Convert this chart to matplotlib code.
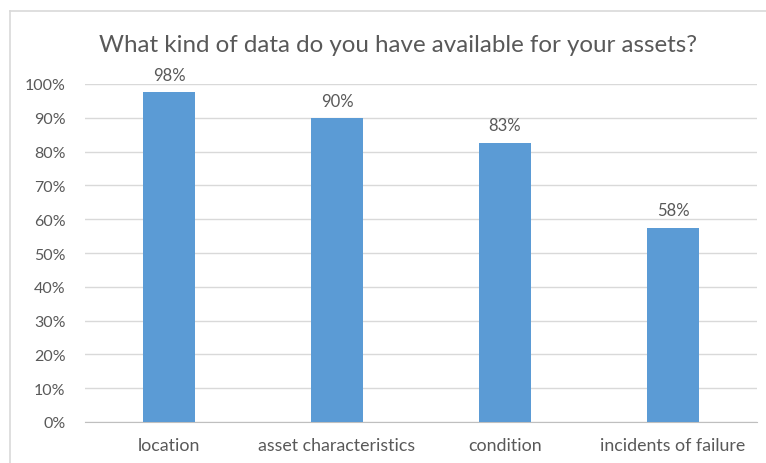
import matplotlib

matplotlib.use("Agg")
import matplotlib.pyplot as plt
from matplotlib.lines import Line2D
from matplotlib.ticker import PercentFormatter

plt.rcParams["font.family"] = ["Lato", "DejaVu Sans"]

categories = ["location", "asset characteristics", "condition", "incidents of failure"]
values = [0.975, 0.899, 0.826, 0.575]
labels = ["98%", "90%", "83%", "58%"]
yticks = [i / 10 for i in range(11)]

TEXT = "#595959"
BAR = "#5b9bd5"
GRID = "#d9d9d9"

fig = plt.figure(figsize=(7.66, 4.64), dpi=100)
ax = fig.add_axes([85 / 766, 1 - 423 / 464, 672 / 766, 338 / 464])

x = range(len(categories))
ax.bar(x, values, width=0.31, color=BAR, zorder=3)
for xi, v, lab in zip(x, values, labels):
    ax.text(xi, v + 0.028, lab, ha="center", va="bottom", fontsize=12, color=TEXT)

ax.set_xlim(-0.5, len(categories) - 0.5)
ax.set_ylim(0, 1)
ax.set_yticks(yticks)
ax.yaxis.set_major_formatter(PercentFormatter(1.0, decimals=0))
ax.set_xticks(list(x))
ax.set_xticklabels(categories)
ax.tick_params(axis="y", length=0, labelsize=11.5, labelcolor=TEXT, pad=14)
ax.tick_params(axis="x", length=0, labelsize=12.8, labelcolor=TEXT, pad=11)
ax.grid(axis="y", color=GRID, linewidth=1, zorder=0)
for side in ("top", "right", "left"):
    ax.spines[side].set_visible(False)
ax.spines["bottom"].set_color("#bfbfbf")

fig.text(398 / 766, 1 - 45 / 464, "What kind of data do you have available for your assets?",
         ha="center", va="center", fontsize=17.4, color=TEXT)

# chart frame (left and top edges visible in the crop)
fig.add_artist(Line2D([10 / 766, 10 / 766], [0, 1 - 12 / 464], transform=fig.transFigure,
                      color="#d9d9d9", linewidth=1.2))
fig.add_artist(Line2D([10 / 766, 1], [1 - 12 / 464, 1 - 12 / 464], transform=fig.transFigure,
                      color="#d9d9d9", linewidth=1.2))

fig.savefig("out.png", dpi=100)
